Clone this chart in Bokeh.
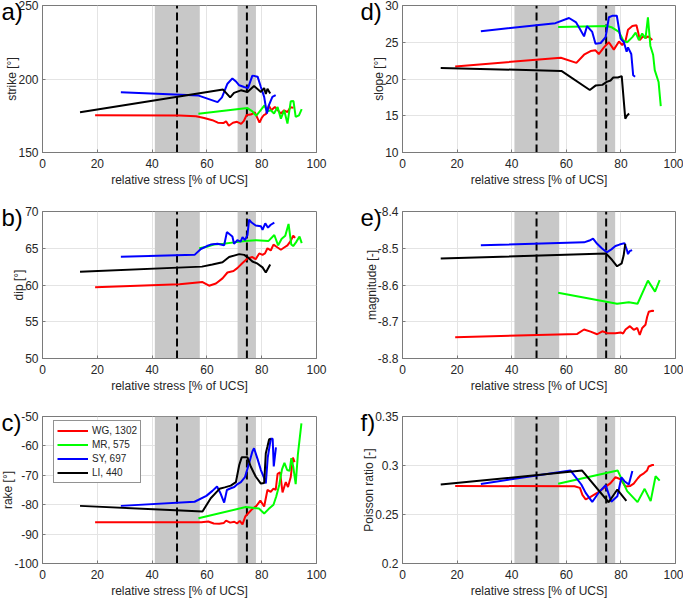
from bokeh.plotting import figure
from bokeh.layouts import column, row
from bokeh.models import Range1d, FixedTicker, Title, Legend, LegendItem
from bokeh.embed import file_html
from bokeh.resources import INLINE

FONT = "Liberation Sans"
TXT = "#262626"
AXC = "#7a7a7a"

# ---------------- shared data ----------------
X_TICKS = [0, 20, 40, 60, 80, 100]
X_LABEL = "relative stress [% of UCS]"
BAND_LEFT = [41.0, 71.2]
BAND_RIGHT = [57.4, 77.9]
DASH_X = [49.1, 74.6]
SERIES = ["WG, 1302", "MR, 575", "SY, 697", "LI, 440"]
COLORS = ["#ff0000", "#00ff00", "#0000ff", "#000000"]

# ---------------- a) strike ----------------
STRIKE_TICKS = [150, 200, 250]
STRIKE_TICK_LABELS = ["150", "200", "250"]
STRIKE_WG_X = [19.2, 50, 56, 59, 62, 64, 66, 67, 68, 69.5, 71, 72.5, 73.5, 74.5, 76, 77.5, 79.2, 80, 80.8, 81.6, 82.6, 83.5, 84.8, 86, 87, 88.2, 89.4, 90.5, 91.6]
STRIKE_WG_Y = [175.3, 175.1, 174.6, 173.5, 172, 170.3, 170, 171.2, 168.2, 170.2, 170.9, 169.5, 171.5, 175.5, 175.8, 177.2, 170.3, 173.5, 175.5, 176.3, 182, 178.7, 181, 178.5, 176.5, 178.7, 177.5, 180.8, 180.5]
STRIKE_MR_X = [56.9, 74.8, 76.6, 78.0, 79.5, 81.0, 82.0, 83.3, 84.5, 85.8, 87.0, 88.2, 89.4, 90.6, 91.6, 92.4, 93.6, 94.6]
STRIKE_MR_Y = [176.3, 180.2, 178.0, 175.0, 178.5, 182.0, 178.0, 178.7, 176.5, 181.0, 173.0, 178.7, 169.7, 184.8, 185.0, 174.2, 175.3, 179.5]
STRIKE_SY_X = [28.6, 57.0, 63.9, 65.5, 67.5, 69.3, 70.5, 71.8, 73.6, 75.0, 76.6, 78.5, 79.7, 80.9, 81.9, 82.6, 83.9, 85.1]
STRIKE_SY_Y = [191.0, 188.7, 184.3, 187.5, 196.8, 200.4, 198.5, 195.7, 194.6, 193.8, 202.3, 201.6, 194.6, 187.8, 176.5, 182.0, 187.8, 189.0]
STRIKE_LI_X = [13.7, 65.9, 68.5, 69.9, 72.4, 74.8, 77.2, 79.7, 80.9, 81.5, 82.1, 83.1]
STRIKE_LI_Y = [177.4, 192.8, 187.5, 190.6, 192.3, 191.2, 195.2, 191.2, 193.8, 189.8, 193.4, 190.2]

# ---------------- b) dip ----------------
DIP_TICKS = [50, 55, 60, 65, 70]
DIP_TICK_LABELS = ["50", "55", "60", "65", "70"]
DIP_WG_X = [19.2, 50, 58.4, 60.8, 63.3, 65.7, 67.5, 69.7, 71.1, 73.0, 74.8, 76.6, 77.8, 79.1, 80.3, 81.2, 82.1, 83.3, 84.3, 85.8, 87.0, 88.2, 89.4, 90.6, 91.5, 92.2]
DIP_WG_Y = [59.7, 60.1, 60.4, 59.9, 60.2, 60.9, 61.7, 61.9, 62.3, 63.0, 63.6, 63.8, 63.5, 64.3, 64.1, 64.3, 65.0, 64.7, 65.5, 65.1, 64.8, 65.1, 65.4, 66.0, 66.7, 66.4]
DIP_MR_X = [57.2, 60.0, 62.5, 66.0, 70.0, 74.0, 78.0, 82.5, 84.6, 86.0, 87.3, 88.6, 89.8, 90.8, 91.5, 92.5, 93.8, 94.6]
DIP_MR_Y = [65.0, 65.2, 65.5, 65.6, 65.8, 66.0, 66.1, 66.0, 66.8, 65.4, 66.3, 66.7, 68.3, 65.5, 65.3, 65.8, 66.6, 65.7]
DIP_SY_X = [28.6, 55.5, 57.8, 60.0, 61.4, 63.9, 66.3, 67.3, 69.3, 69.9, 71.1, 72.3, 73.0, 73.9, 74.8, 75.4, 76.3, 77.8, 79.7, 80.3, 81.3, 82.3, 83.3, 84.6]
DIP_SY_Y = [63.85, 64.1, 64.9, 65.3, 65.5, 65.6, 65.4, 67.2, 66.6, 65.6, 66.1, 65.9, 66.5, 66.1, 66.8, 68.9, 68.5, 68.1, 68.0, 67.5, 68.4, 67.8, 68.2, 68.5]
DIP_LI_X = [13.7, 58.2, 62.0, 65.7, 68.1, 71.8, 73.6, 74.8, 76.6, 78.5, 80.3, 81.5, 83.1]
DIP_LI_Y = [61.8, 62.5, 62.8, 63.1, 63.8, 64.2, 64.1, 63.8, 63.2, 62.9, 62.4, 61.7, 62.8]

# ---------------- c) rake ----------------
RAKE_TICKS = [-100, -90, -80, -70, -60, -50]
RAKE_TICK_LABELS = ["-100", "-90", "-80", "-70", "-60", "-50"]
RAKE_WG_X = [19.2, 58, 60.5, 62.5, 64.5, 66.2, 67, 68.5, 70, 71, 72, 73, 74, 75, 76.5, 78, 79.5, 80.9, 82.1, 83.3, 84.3, 85.1, 85.8, 86.7, 87.6, 88.8, 89.6, 90.6, 91.4, 92]
RAKE_WG_Y = [-86, -86, -85.7, -86.4, -86.5, -86.2, -85.4, -86.1, -85.8, -86.4, -85.5, -86.7, -84, -83, -81.5, -80.5, -78.6, -80.6, -75, -75.6, -74.5, -75, -69.5, -69, -75.8, -72.3, -74, -70.6, -64, -65.5]
RAKE_MR_X = [56.9, 74.2, 76.5, 79.0, 80.9, 82.5, 84.3, 85.3, 86.4, 87.4, 88.3, 89.3, 90.2, 90.8, 91.5, 92.4, 93.2, 93.8, 94.5]
RAKE_MR_Y = [-84.6, -80.8, -81.0, -81.3, -83.0, -81.5, -80.0, -77.2, -73.3, -68.0, -65.8, -68.2, -68.5, -64.2, -67.0, -73.0, -63.0, -58.0, -52.3]
RAKE_SY_X = [28.6, 55.5, 59.8, 62.0, 63.7, 65.0, 66.3, 67.3, 68.5, 70.0, 71.2, 72.4, 73.9, 75.4, 76.6, 77.2, 78.5, 79.7, 80.9, 81.5, 82.2, 83.3, 84.0, 84.4, 85.2]
RAKE_SY_Y = [-80.4, -79.0, -77.0, -75.3, -73.8, -76.2, -79.3, -75.0, -74.5, -74.0, -73.0, -72.3, -70.6, -65.9, -61.9, -60.8, -64.5, -68.2, -71.0, -72.8, -64.0, -57.6, -57.6, -67.0, -60.5]
RAKE_LI_X = [13.7, 58.4, 61.4, 64.6, 66.5, 68.7, 70.6, 71.8, 72.7, 74.8, 76.0, 77.8, 79.7, 80.9, 81.5, 82.1, 82.7, 83.3]
RAKE_LI_Y = [-80.4, -82.3, -77.8, -74.6, -74.1, -73.5, -72.3, -66.5, -63.9, -63.9, -67.0, -70.4, -72.8, -72.6, -62.5, -60.2, -57.8, -57.5]

# ---------------- d) slope ----------------
SLOPE_TICKS = [10, 15, 20, 25, 30]
SLOPE_TICK_LABELS = ["10", "15", "20", "25", "30"]
SLOPE_WG_X = [19.3, 58, 63.7, 66.5, 68.9, 70.7, 71.9, 73.8, 75.6, 77.4, 79.3, 80.5, 81.7, 82.6, 84.2, 85.7, 86.3, 86.9, 88.1, 89.1, 90.0, 91.5]
SLOPE_WG_Y = [21.7, 22.9, 22.2, 23.3, 23.8, 23.9, 23.4, 24.3, 25.0, 24.0, 25.1, 24.6, 25.2, 26.7, 27.2, 27.3, 26.4, 25.3, 25.8, 25.6, 25.8, 25.3]
SLOPE_MR_X = [57.0, 75.0, 76.8, 79.3, 80.9, 82.3, 84.2, 85.4, 86.6, 87.8, 89.0, 89.9, 90.8, 91.8, 92.4, 93.8, 94.6]
SLOPE_MR_Y = [27.06, 27.2, 27.0, 26.4, 25.2, 25.0, 25.7, 26.3, 25.3, 26.2, 25.5, 28.4, 24.5, 23.3, 21.2, 19.6, 16.3]
SLOPE_SY_X = [28.7, 56.0, 61.0, 63.6, 65.0, 66.5, 67.6, 69.5, 70.7, 72.6, 74.4, 75.6, 76.8, 78.5, 79.9, 81.1, 82.1, 82.6, 83.8, 84.5, 85.2]
SLOPE_SY_Y = [26.5, 27.6, 28.3, 27.7, 26.8, 25.8, 27.2, 26.4, 24.8, 24.9, 25.7, 28.4, 28.6, 28.6, 25.5, 25.0, 23.7, 24.3, 23.4, 20.5, 20.3]
SLOPE_LI_X = [14.0, 58.2, 68.6, 70.7, 73.2, 74.8, 76.2, 77.2, 78.9, 80.3, 81.6, 82.2, 83.0]
SLOPE_LI_Y = [21.5, 21.1, 18.5, 19.1, 19.2, 19.6, 19.8, 20.2, 20.2, 20.4, 14.6, 15.0, 15.3]

# ---------------- e) magnitude ----------------
MAG_TICKS = [-8.8, -8.7, -8.6, -8.5, -8.4]
MAG_TICK_LABELS = ["-8.8", "-8.7", "-8.6", "-8.5", "-8.4"]
MAG_WG_X = [19.3, 64.0, 66.5, 68.9, 71.3, 73.2, 75.0, 78.0, 79.9, 80.8, 81.7, 83.3, 84.7, 86.0, 86.9, 87.8, 89.0, 89.6, 90.2, 91.5, 92.1]
MAG_WG_Y = [-8.742, -8.733, -8.721, -8.727, -8.734, -8.726, -8.731, -8.731, -8.729, -8.732, -8.721, -8.712, -8.722, -8.717, -8.736, -8.717, -8.708, -8.687, -8.673, -8.670, -8.671]
MAG_MR_X = [57.0, 78.6, 82.9, 86.1, 89.9, 92.5, 94.2]
MAG_MR_Y = [-8.621, -8.651, -8.647, -8.651, -8.588, -8.618, -8.587]
MAG_SY_X = [28.7, 66.5, 68.5, 69.8, 71.3, 73.0, 74.8, 76.5, 78.0, 79.5, 81.3, 82.2, 82.6, 83.2, 84.1]
MAG_SY_Y = [-8.492, -8.484, -8.479, -8.474, -8.488, -8.500, -8.511, -8.503, -8.494, -8.490, -8.486, -8.505, -8.516, -8.508, -8.505]
MAG_LI_X = [14.0, 74.5, 76.8, 78.6, 80.3, 81.0, 81.6]
MAG_LI_Y = [-8.528, -8.514, -8.532, -8.549, -8.541, -8.520, -8.488]

# ---------------- f) Poisson ratio ----------------
POIS_TICKS = [0.2, 0.25, 0.3, 0.35]
POIS_TICK_LABELS = ["0.2", "0.25", "0.3", "0.35"]
POIS_WG_X = [19.3, 63.0, 65.0, 65.9, 67.1, 68.9, 71.3, 73.8, 76.2, 78.0, 79.9, 81.7, 83.3, 84.7, 86.2, 87.2, 88.4, 89.6, 90.2, 91.5, 92.1]
POIS_WG_Y = [0.2790, 0.2789, 0.2772, 0.2700, 0.2655, 0.2680, 0.2720, 0.2770, 0.2820, 0.2880, 0.2860, 0.2785, 0.2790, 0.2815, 0.2870, 0.2900, 0.2920, 0.2950, 0.2990, 0.3005, 0.3005]
POIS_MR_X = [57.0, 78.8, 82.3, 86.1, 88.7, 90.9, 92.7, 94.2]
POIS_MR_Y = [0.2814, 0.2950, 0.2738, 0.2626, 0.2762, 0.2636, 0.2890, 0.2845]
POIS_SY_X = [28.7, 61.5, 65.5, 67.1, 69.5, 71.9, 74.4, 76.5, 78.7, 80.2, 81.3, 82.9, 84.2]
POIS_SY_Y = [0.2812, 0.2950, 0.2806, 0.2721, 0.2628, 0.2725, 0.2800, 0.2630, 0.2687, 0.2880, 0.2840, 0.2806, 0.2945]
POIS_LI_X = [14.0, 65.8, 75.5, 78.7, 82.0]
POIS_LI_Y = [0.2805, 0.2948, 0.2625, 0.2755, 0.2640]

FH = 147
SHIFT = 6  # the layout is pulled left by this many pixels


def make_panel(letter, ylabel, ticks, tick_labels, data, left_col, top_b, bot_b, legend=False):
    fw = 274 if left_col else 273
    bl = 48
    y0, y1 = ticks[0], ticks[-1]
    title = Title(text=letter, align="left", offset=-41 if left_col else -42, standoff=-39,
                  vertical_align="bottom", text_font=FONT, text_font_size="24px",
                  text_font_style="normal", text_color="black")
    p = figure(frame_width=fw, frame_height=FH,
               x_range=Range1d(0, 100), y_range=Range1d(y0, y1),
               output_backend="svg", toolbar_location=None, title=title,
               min_border_left=bl,
               min_border_right=38 if left_col else 8,
               min_border_top=top_b, min_border_bottom=bot_b)
    p.background_fill_color = "white"
    p.border_fill_color = "white"
    p.outline_line_color = AXC
    p.outline_line_width = 1

    # gray bands and dashed markers
    p.quad(left=BAND_LEFT, right=BAND_RIGHT, bottom=[y0] * len(BAND_LEFT), top=[y1] * len(BAND_LEFT),
           fill_color="#c8c8c8", line_color=None)
    for dx in DASH_X:
        p.line([dx, dx], [y0, y1], line_color="black", line_width=2, line_dash="8 4")

    renderers = []
    for (xs, ys), col in zip(data, COLORS):
        r = p.line(xs, ys, line_color=col, line_width=2)
        renderers.append(r)

    # axes
    p.xaxis.ticker = FixedTicker(ticks=X_TICKS)
    p.yaxis.ticker = FixedTicker(ticks=ticks)
    p.yaxis.major_label_overrides = {t: s for t, s in zip(ticks, tick_labels)}
    p.xaxis.axis_label = X_LABEL
    p.yaxis.axis_label = ylabel
    for ax in (p.xaxis[0], p.yaxis[0]):
        ax.axis_line_color = AXC
        ax.major_tick_line_color = AXC
        ax.major_tick_in = 3
        ax.major_tick_out = 0
        ax.minor_tick_line_color = None
        ax.major_label_text_font = FONT
        ax.major_label_text_font_size = "12px"
        ax.major_label_text_color = TXT
        ax.axis_label_text_font = FONT
        ax.axis_label_text_font_size = "12px"
        ax.axis_label_text_font_style = "normal"
        ax.axis_label_text_color = TXT
    p.xaxis.major_label_standoff = 6
    p.xaxis.axis_label_standoff = 2
    p.yaxis.major_label_standoff = 4
    p.yaxis.axis_label_standoff = -4

    p.xgrid.ticker = FixedTicker(ticks=X_TICKS)
    p.ygrid.ticker = FixedTicker(ticks=ticks)
    p.grid.grid_line_color = "#e4e4e4"
    p.grid.grid_line_width = 1

    if legend:
        items = [LegendItem(label=s, renderers=[r]) for s, r in zip(SERIES, renderers)]
        lg = Legend(items=items, location=(11, 80))
        lg.label_text_font = FONT
        lg.label_text_font_size = "10px"
        lg.label_text_color = TXT
        lg.glyph_width = 31
        lg.glyph_height = 13
        lg.label_height = 13
        lg.label_standoff = 4
        lg.spacing = 1
        lg.padding = 3
        lg.margin = 0
        lg.border_line_color = "#262626"
        lg.border_line_width = 1
        lg.background_fill_color = "white"
        lg.background_fill_alpha = 1.0
        p.add_layout(lg, "center")
    return p


pa = make_panel("a)", "strike [°]", STRIKE_TICKS, STRIKE_TICK_LABELS,
                [(STRIKE_WG_X, STRIKE_WG_Y), (STRIKE_MR_X, STRIKE_MR_Y), (STRIKE_SY_X, STRIKE_SY_Y), (STRIKE_LI_X, STRIKE_LI_Y)],
                True, 5, 42)
pb = make_panel("b)", "dip [°]", DIP_TICKS, DIP_TICK_LABELS,
                [(DIP_WG_X, DIP_WG_Y), (DIP_MR_X, DIP_MR_Y), (DIP_SY_X, DIP_SY_Y), (DIP_LI_X, DIP_LI_Y)],
                True, 17, 42)
pc = make_panel("c)", "rake [°]", RAKE_TICKS, RAKE_TICK_LABELS,
                [(RAKE_WG_X, RAKE_WG_Y), (RAKE_MR_X, RAKE_MR_Y), (RAKE_SY_X, RAKE_SY_Y), (RAKE_LI_X, RAKE_LI_Y)],
                True, 16, 36, legend=True)
pd_ = make_panel("d)", "slope [°]", SLOPE_TICKS, SLOPE_TICK_LABELS,
                 [(SLOPE_WG_X, SLOPE_WG_Y), (SLOPE_MR_X, SLOPE_MR_Y), (SLOPE_SY_X, SLOPE_SY_Y), (SLOPE_LI_X, SLOPE_LI_Y)],
                 False, 5, 42)
pe = make_panel("e)", "magnitude [-]", MAG_TICKS, MAG_TICK_LABELS,
                [(MAG_WG_X, MAG_WG_Y), (MAG_MR_X, MAG_MR_Y), (MAG_SY_X, MAG_SY_Y), (MAG_LI_X, MAG_LI_Y)],
                False, 17, 42)
pf = make_panel("f)", "Poisson ratio [-]", POIS_TICKS, POIS_TICK_LABELS,
                [(POIS_WG_X, POIS_WG_Y), (POIS_MR_X, POIS_MR_Y), (POIS_SY_X, POIS_SY_Y), (POIS_LI_X, POIS_LI_Y)],
                False, 16, 36)

layout = column(row(pa, pd_), row(pb, pe), row(pc, pf), margin=(0, 0, 0, -SHIFT))

with open("out.html", "w") as f:
    f.write(file_html(layout, INLINE))
